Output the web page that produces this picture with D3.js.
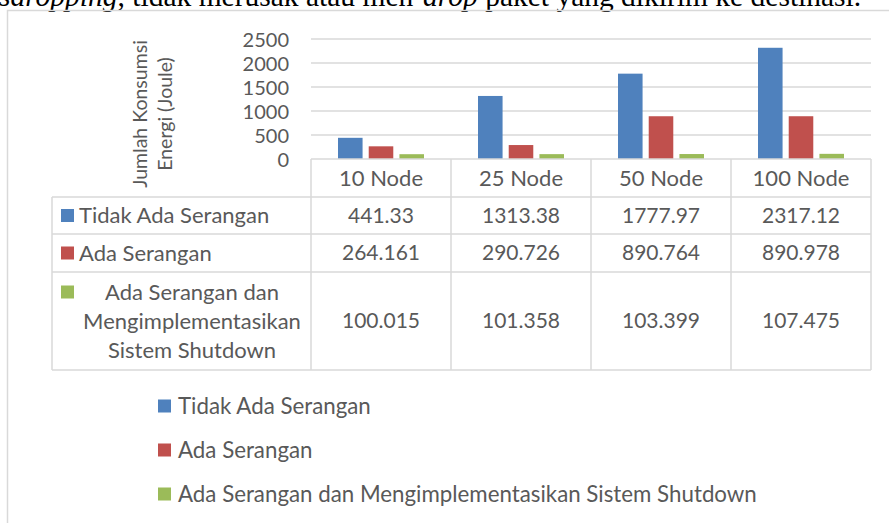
<!DOCTYPE html>
<html>
<head>
<meta charset="utf-8">
<script src="https://cdn.jsdelivr.net/npm/d3@7"></script>
<style>
  html, body { margin: 0; padding: 0; background: #fff; }
  svg { display: block; }
</style>
</head>
<body>
<svg id="chart" width="889" height="523"></svg>
<script>
const categories = ["10 Node", "25 Node", "50 Node", "100 Node"];
const seriesNames = ["Tidak Ada Serangan", "Ada Serangan", "Ada Serangan dan Mengimplementasikan Sistem Shutdown"];
const seriesLabelLines = [["Tidak Ada Serangan"], ["Ada Serangan"], ["Ada Serangan dan", "Mengimplementasikan", "Sistem Shutdown"]];
const tidakAdaSerangan = [441.33, 1313.38, 1777.97, 2317.12];
const adaSerangan = [264.161, 290.726, 890.764, 890.978];
const adaSeranganShutdown = [100.015, 101.358, 103.399, 107.475];
const valueLabels = [
  ["441.33", "1313.38", "1777.97", "2317.12"],
  ["264.161", "290.726", "890.764", "890.978"],
  ["100.015", "101.358", "103.399", "107.475"]
];
const yTicks = [0, 500, 1000, 1500, 2000, 2500];
const colors = ["#4F81BD", "#C0504D", "#9BBB59"];
const yTitle = ["Jumlah Konsumsi", "Energi (Joule)"];

const seriesValues = [tidakAdaSerangan, adaSerangan, adaSeranganShutdown];

const svg = d3.select("#chart");
const FONT = "Lato, 'Open Sans', sans-serif";
const TXT = "#595959";
const LINE = "#D9D9D9";
const LABEL_SIZE = 22;
const NUM_SIZE = 21;

svg.append("rect").attr("width", 889).attr("height", 523).attr("fill", "#fff");

// document text above the chart (cut off)
const docText = svg.append("text").attr("x", -1).attr("y", 6)
  .attr("font-family", "'Liberation Serif', 'Times New Roman', serif")
  .attr("font-size", 29.5).attr("fill", "#000");
docText.append("tspan").attr("font-style", "italic").text("sdropping");
docText.append("tspan").text(", tidak merusak atau men-");
docText.append("tspan").attr("font-style", "italic").text("drop");
docText.append("tspan").text(" paket yang dikirim ke destinasi.");

// chart frame
svg.append("rect").attr("x", 7.5).attr("y", 10.5).attr("width", 920).attr("height", 600)
  .attr("fill", "none").attr("stroke", LINE).attr("stroke-width", 1.5);

const x = d3.scaleBand().domain(categories).range([311, 871]).paddingInner(0).paddingOuter(0);
const xs = d3.scaleBand().domain(seriesNames).range([27, 113]).paddingInner(0.2);
const y = d3.scaleLinear().domain([0, 2500]).range([159, 39]);

// gridlines
svg.append("g").selectAll("line").data(yTicks.filter(t => t > 0)).join("line")
  .attr("x1", 311).attr("x2", 871)
  .attr("y1", d => y(d)).attr("y2", d => y(d))
  .attr("stroke", LINE).attr("stroke-width", 1.5);

// y axis labels via d3 axis
const yAxis = svg.append("g").attr("transform", "translate(289,0)")
  .call(d3.axisLeft(y).tickValues(yTicks).tickSize(0).tickPadding(0).tickFormat(d3.format("d")));
yAxis.select(".domain").remove();
yAxis.selectAll("text").attr("font-family", FONT).attr("font-size", 20).attr("fill", TXT)
  .attr("dy", "0.35em");

// y title
const yt = svg.append("g").attr("transform", "translate(0,114) rotate(-90)");
yt.selectAll("text").data(yTitle).join("text")
  .attr("x", 0).attr("y", (d, i) => 147 + i * 25)
  .attr("text-anchor", "middle")
  .attr("font-family", FONT).attr("font-size", 19.5).attr("fill", TXT)
  .text(d => d);

// bars
seriesValues.forEach((vals, si) => {
  svg.append("g").selectAll("rect").data(vals).join("rect")
    .attr("x", (d, i) => x(categories[i]) + xs(seriesNames[si]))
    .attr("width", xs.bandwidth())
    .attr("y", d => y(d))
    .attr("height", d => y(0) - y(d))
    .attr("fill", colors[si]);
});

// data table
const rowTops = [159, 197, 234, 272, 370];
const tbl = svg.append("g").attr("stroke", LINE).attr("stroke-width", 1.5);
tbl.append("line").attr("x1", 311).attr("x2", 871).attr("y1", rowTops[0]).attr("y2", rowTops[0]);
rowTops.slice(1).forEach(yy => {
  tbl.append("line").attr("x1", 52).attr("x2", 871).attr("y1", yy).attr("y2", yy);
});
tbl.append("line").attr("x1", 52).attr("x2", 52).attr("y1", rowTops[1]).attr("y2", rowTops[4]);
categories.forEach(c => {
  tbl.append("line").attr("x1", x(c)).attr("x2", x(c)).attr("y1", rowTops[0]).attr("y2", rowTops[4]);
});
tbl.append("line").attr("x1", 871).attr("x2", 871).attr("y1", rowTops[0]).attr("y2", rowTops[4]);

// category labels
svg.append("g").selectAll("text").data(categories).join("text")
  .attr("x", d => x(d) + x.bandwidth() / 2)
  .attr("y", (rowTops[0] + rowTops[1]) / 2)
  .attr("dy", "0.35em").attr("text-anchor", "middle")
  .attr("font-family", FONT).attr("font-size", LABEL_SIZE).attr("fill", TXT)
  .text(d => d);

// row labels and values
seriesNames.forEach((s, si) => {
  const yTop = rowTops[si + 1], yBot = rowTops[si + 2];
  const yMid = (yTop + yBot) / 2;
  const lines = seriesLabelLines[si];
  if (lines.length === 1) {
    svg.append("rect").attr("x", 61).attr("y", yMid - 6.5).attr("width", 13).attr("height", 13).attr("fill", colors[si]);
    svg.append("text").attr("x", 79).attr("y", yMid).attr("dy", "0.35em")
      .attr("font-family", FONT).attr("font-size", LABEL_SIZE).attr("fill", TXT).text(lines[0]);
  } else {
    const lh = 29;
    const y0 = yMid - lh * (lines.length - 1) / 2;
    svg.append("rect").attr("x", 61).attr("y", y0 - 6.5).attr("width", 13).attr("height", 13).attr("fill", colors[si]);
    svg.append("g").selectAll("text").data(lines).join("text")
      .attr("x", 192).attr("y", (d, i) => y0 + i * lh).attr("dy", "0.35em")
      .attr("text-anchor", "middle")
      .attr("font-family", FONT).attr("font-size", LABEL_SIZE).attr("fill", TXT).text(d => d);
  }
  svg.append("g").selectAll("text").data(valueLabels[si]).join("text")
    .attr("x", (d, i) => x(categories[i]) + x.bandwidth() / 2)
    .attr("y", yMid).attr("dy", "0.35em").attr("text-anchor", "middle")
    .attr("font-family", FONT).attr("font-size", NUM_SIZE).attr("fill", TXT).text(d => d);
});

// legend
const legY = [406, 450, 494];
const leg = svg.append("g").selectAll("g").data(seriesNames).join("g")
  .attr("transform", (d, i) => `translate(158,${legY[i]})`);
leg.append("rect").attr("x", 0).attr("y", -6.5).attr("width", 13).attr("height", 13)
  .attr("fill", (d, i) => colors[i]);
leg.append("text").attr("x", 20).attr("y", 0).attr("dy", "0.35em")
  .attr("font-family", FONT).attr("font-size", 22.3).attr("fill", TXT).text(d => d);
</script>
</body>
</html>
